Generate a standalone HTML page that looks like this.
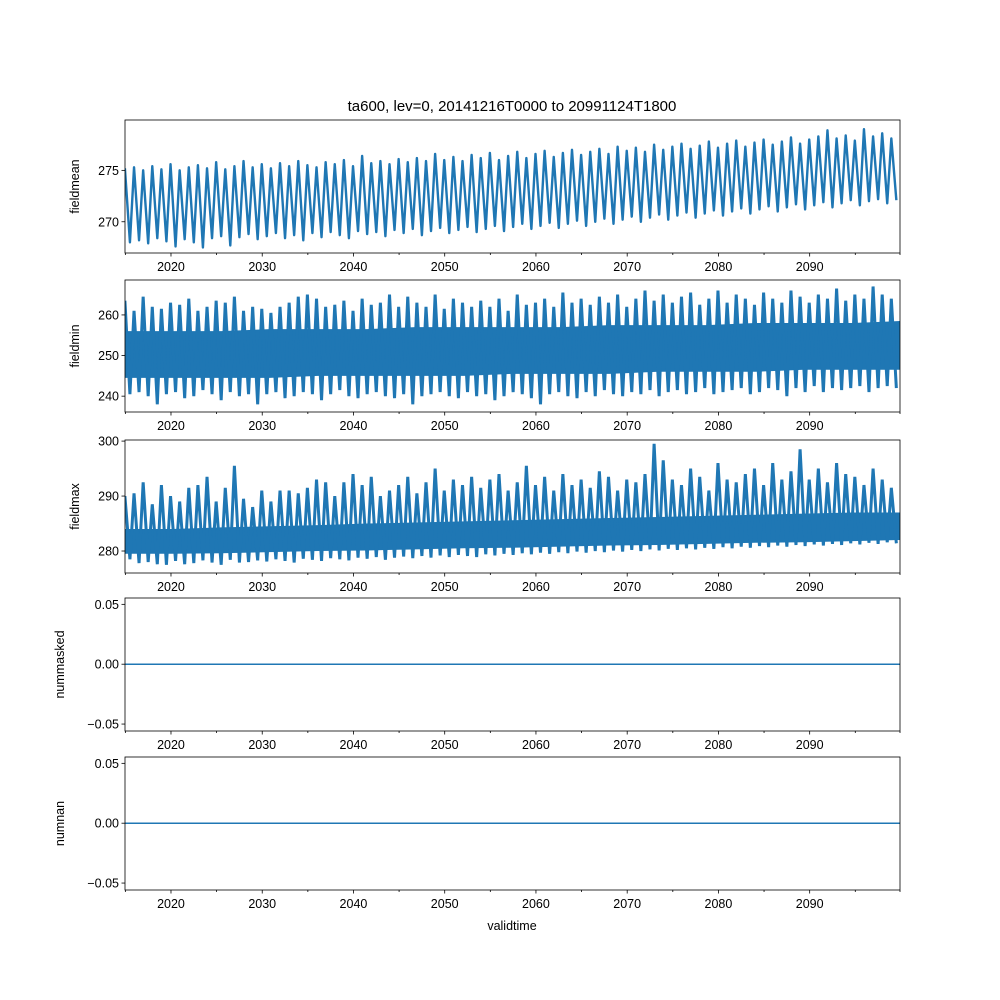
<!DOCTYPE html>
<html><head><meta charset="utf-8"><style>
html,body{margin:0;padding:0;background:#fff}
svg{display:block;font-family:"Liberation Sans","DejaVu Sans",sans-serif}
</style></head><body>
<svg id="chart" width="1000" height="1000" viewBox="0 0 1000 1000"></svg>
<script>
const meanHigh=[275.2,275.3,275.0,275.4,275.1,275.6,275.0,275.3,275.5,275.2,275.8,275.1,275.4,275.9,275.3,275.6,275.2,275.7,275.4,275.9,275.5,275.3,275.8,275.6,276.0,275.4,276.4,275.7,275.9,275.6,276.1,275.8,276.2,275.9,276.6,276.0,276.3,275.9,276.5,276.2,276.7,276.0,276.4,276.8,276.2,276.6,276.9,276.3,276.7,277.0,276.5,276.8,277.1,276.6,277.3,276.9,277.2,276.8,277.5,277.0,277.3,277.6,277.1,277.4,277.8,277.2,277.6,277.9,277.3,277.7,278.0,277.5,277.8,278.2,277.6,278.0,278.3,278.9,278.1,278.4,277.9,279.0,278.3,278.6,278.1];
const meanLow=[268.0,268.2,267.9,268.4,268.1,267.6,268.3,268.0,267.5,268.4,268.6,267.7,268.5,268.8,268.3,268.6,268.9,268.4,268.7,268.2,268.9,268.5,269.0,268.7,268.4,269.1,268.8,269.0,268.6,269.2,268.9,269.3,268.7,269.1,269.4,268.9,269.2,269.5,269.0,269.3,269.6,269.1,269.5,269.8,269.3,269.6,269.9,269.4,269.8,270.1,269.6,270.0,270.3,269.8,270.2,270.5,270.0,270.4,270.7,270.2,270.6,270.9,270.4,270.8,271.1,270.6,271.0,271.3,270.8,271.2,271.5,271.0,271.4,271.7,271.2,271.6,271.9,271.4,271.8,272.1,271.6,272.0,272.2,271.8,272.1];
const minHigh=[263.5,261,264.5,262,261.5,263,262.5,264,261,262,263.5,263,264.5,261,262,261.5,260.5,262,263,264.5,265,264,262,262.5,263.5,261,264,262.5,263,265,262,264.5,263,262,265,261.5,264,263,262,263.5,262,264,261,265,262.5,263,264,262,265.5,263,264,262.5,264.5,263,265,262,264,266,263.5,265,263,264.5,265.5,262.5,264,266,263,265,264,262.5,265.5,264,263,266,264.5,263,265,264,266.5,263.5,265,264,267,265,264];
const minLow=[240.5,241,240,238,240.5,241,239.5,240,241.5,240.5,239,241,240,240.5,238,240.5,241,239.5,240,241,240.5,239,240.5,241.5,240,239.5,240.5,241,240,239.5,240.5,238,240,240.5,241,240,239.5,241,240,240.5,239,240,241,240.5,239.5,238,240.5,241,240,239.5,241,240,241.5,240.5,240,241,240.5,241.5,240,241,241.5,240.5,241,242,240.5,241,241.5,242,240.5,241,242,241.5,240,242,241,242.5,241,242,241.5,242,242.5,241,242,242.5,242];
const minCoreHi=[256,256,256,256.5,256.5,256.5,257,257,257,257,257.5,257.5,257.5,258,258,258,258.5];
const minCoreLo=[244.5,244.5,244.5,244.5,245,245,245,245,245.5,245.5,245.5,246,246,246,246.5,246.5,246.5];
const maxHigh=[290,290.5,292.5,288.5,292,290,289,291.5,292,293.5,289,291.5,295.5,289.5,288,291,289,291,291,290.5,291.5,293,292.5,290,292.5,294,292,293.5,290,291,292,293.5,290.5,292.5,295,291,293,292,293.5,291.5,293,294,291,292.5,295.5,292,293.5,291,294,292,293,291.5,294.5,293.5,291,293,292.5,294,299.5,296.5,293,292,295,293.5,291,296,293,292.5,294,295,292,296,293,294.5,298.5,293,295,292.5,296,294,293.5,292,295,293,291.5];
const maxLow=[278.5,277.8,278,277.6,277.5,278.2,277.6,277.8,278.3,277.9,277.5,278.4,277.9,278,278.3,278.1,278.5,278.2,277.9,278.6,278.4,278.2,278.7,278.5,278.3,278.8,278.6,278.9,278.4,278.8,279,278.7,279.1,278.8,279.2,278.9,279.3,279.1,278.9,279.4,279.2,279.5,279.3,279.6,279.4,279.7,279.5,279.8,279.6,279.9,279.7,280,279.8,280.1,279.9,280.2,280,280.3,280.1,280.4,280.2,280.5,280.3,280.6,280.4,280.7,280.5,280.8,280.6,280.9,280.7,281,280.8,281.1,280.9,281.2,281,281.3,281.1,281.4,281.2,281.5,281.3,281.6,281.4];
const maxCoreHi=[284,284,284.3,284.5,284.7,285,285.2,285.4,285.6,285.8,286,286.2,286.4,286.6,286.8,287,287];
const maxCoreLo=[279.5,279.5,279.6,279.8,280,280.1,280.3,280.5,280.6,280.8,281,281.1,281.3,281.5,281.6,281.8,282];
const xTicks=[2020,2030,2040,2050,2060,2070,2080,2090];
const panels=[
 {name:'fieldmean',top:120,bot:253,ymin:266.96,ymax:279.9,ticks:[270,275],labels:['270','275']},
 {name:'fieldmin',top:280,bot:412,ymin:236.1,ymax:268.6,ticks:[240,250,260],labels:['240','250','260']},
 {name:'fieldmax',top:440,bot:573,ymin:276.0,ymax:300.2,ticks:[280,290,300],labels:['280','290','300']},
 {name:'nummasked',top:598,bot:731,ymin:-0.0558,ymax:0.0553,ticks:[-0.05,0,0.05],labels:['−0.05','0.00','0.05']},
 {name:'numnan',top:757,bot:890,ymin:-0.0558,ymax:0.0553,ticks:[-0.05,0,0.05],labels:['−0.05','0.00','0.05']}
];
const L=125,R=900,X0=2014.96,X1=2099.9,C='#1f77b4';
const svg=document.getElementById('chart');
const NS='http://www.w3.org/2000/svg';
function xs(t){return L+(t-X0)/(X1-X0)*(R-L);}
function mk(tag,attrs,parent){const e=document.createElementNS(NS,tag);for(const k in attrs)e.setAttribute(k,attrs[k]);(parent||svg).appendChild(e);return e;}
const title=mk('text',{x:512,y:111,'text-anchor':'middle','font-size':15});
title.textContent='ta600, lev=0, 20141216T0000 to 20991124T1800';


panels.forEach((p,pi)=>{
 const g=mk('g',{});
 
 
 const ys=v=>p.bot-(v-p.ymin)/(p.ymax-p.ymin)*(p.bot-p.top);
 const clip=mk('clipPath',{id:'c'+pi},g);mk('rect',{x:L,y:p.top,width:R-L,height:p.bot-p.top},clip);
 const dg=mk('g',{'clip-path':'url(#c'+pi+')'},g);
 
 
 function zig(hi,lo){let pts=[];for(let i=0;i<hi.length;i++){const y=2015+i;pts.push(xs(y-0.05)+','+ys(hi[i]));pts.push(xs(y+0.5)+','+ys(lo[i]));}return pts.join(' ');}
 function band(hi,lo){let a=[],b=[];const st=(X1-X0+0.2)/(hi.length-1);for(let i=0;i<hi.length;i++){const y=X0-0.1+i*st;a.push(xs(y)+','+ys(hi[i]));b.unshift(xs(y)+','+ys(lo[i]));}return a.concat(b).join(' ');}
 if(p.name==='fieldmean'){
  const l=mk('polyline',{points:zig(meanHigh,meanLow),fill:'none',stroke:C,'stroke-width':2.4,'stroke-linejoin':'round'},dg);
  
 } else if(p.name==='fieldmin'){
  const b=mk('polygon',{points:band(minCoreHi,minCoreLo),fill:C},dg);
  
  const l=mk('polyline',{points:zig(minHigh,minLow),fill:'none',stroke:C,'stroke-width':3},dg);
  
 } else if(p.name==='fieldmax'){
  const b=mk('polygon',{points:band(maxCoreHi,maxCoreLo),fill:C},dg);
  
  const l=mk('polyline',{points:zig(maxHigh,maxLow),fill:'none',stroke:C,'stroke-width':3},dg);
  
 } else {
  const l=mk('line',{x1:L,x2:R,y1:ys(0),y2:ys(0),stroke:C,'stroke-width':1.5},dg);
  
 }
 const fr=mk('rect',{x:L,y:p.top,width:R-L,height:p.bot-p.top,fill:'none',stroke:'#000','stroke-width':0.8},g);
 
 p.ticks.forEach((t,i)=>{
  const y=ys(t);
  mk('line',{x1:L-3.5,x2:L,y1:y,y2:y,stroke:'#000','stroke-width':0.8},g);
  const tx=mk('text',{x:L-6,y:y+4.5,'text-anchor':'end','font-size':12.5},g);
  tx.textContent=p.labels[i];
  
 });
 for(let yr=2015;yr<=2095;yr+=5){
  const major=yr%10===0;
  mk('line',{x1:xs(yr),x2:xs(yr),y1:p.bot,y2:p.bot+(major?3.5:2),stroke:'#000','stroke-width':0.8},g);
 }
 mk('line',{x1:R,x2:R,y1:p.bot,y2:p.bot+2,stroke:'#000','stroke-width':0.8},g);
 xTicks.forEach(t=>{
  const tx=mk('text',{x:xs(t),y:p.bot+18,'text-anchor':'middle','font-size':12.5},g);
  tx.textContent=String(t);
  
 });
 const cy=(p.top+p.bot)/2;
 const yl=mk('text',{x:0,y:0,'text-anchor':'middle','font-size':12.5,transform:'translate('+(p.name.startsWith('num')?64:79)+','+cy+') rotate(-90)'},g);
 yl.textContent=p.name;
 
});
const xl=mk('text',{x:512,y:930,'text-anchor':'middle','font-size':12.5});
xl.textContent='validtime';


</script>
</body></html>
